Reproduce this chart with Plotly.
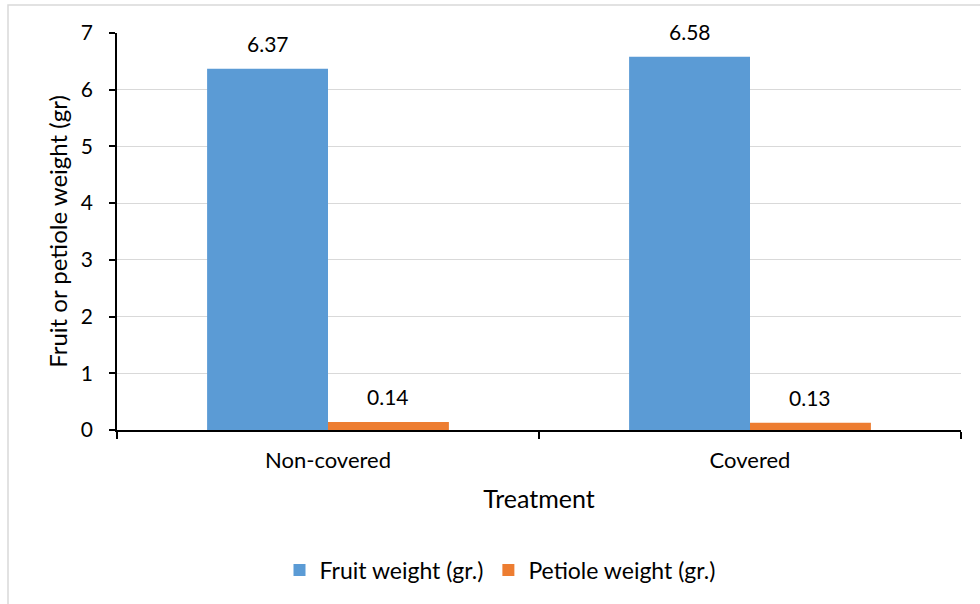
import plotly.graph_objects as go

# Data
treatments = ["Non-covered", "Covered"]
fruit_weight = [6.37, 6.58]
petiole_weight = [0.14, 0.13]
series_names = ["Fruit weight (gr.)", "Petiole weight (gr.)"]
y_ticks = [0, 1, 2, 3, 4, 5, 6, 7]

FONT = "Lato, 'Open Sans', sans-serif"
BLUE = "#5B9BD5"
ORANGE = "#ED7D31"

W, H = 980, 604
ML, MR, MT, MB = 117, 19, 33, 174
PW, PH = W - ML - MR, H - MT - MB

fig = go.Figure()
fig.add_trace(go.Bar(x=treatments, y=fruit_weight, name=series_names[0],
                     marker=dict(color=BLUE, line=dict(width=0))))
fig.add_trace(go.Bar(x=treatments, y=petiole_weight, name=series_names[1],
                     marker=dict(color=ORANGE, line=dict(width=0))))

# value labels above each bar
bar_px = PW / len(treatments) * (1 - 0.427) / 2
for vals, sign in ((fruit_weight, -1), (petiole_weight, 1)):
    for cat, v in zip(treatments, vals):
        fig.add_annotation(x=cat, y=v, text=f"{v:.2f}", showarrow=False,
                           xshift=sign * bar_px / 2, yshift=11, yanchor="bottom",
                           font=dict(family=FONT, size=21, color="#000000"))

# outer chart border (left and top edges visible)
fig.add_shape(type="rect", xref="paper", yref="paper",
              x0=(8 - ML) / PW, x1=(W + 20 - ML) / PW,
              y0=-(H + 20 - MT - PH) / PH, y1=1 + (MT - 5) / PH,
              line=dict(color="#D9D9D9", width=1.5), fillcolor="rgba(0,0,0,0)",
              layer="below")

fig.update_layout(
    width=W, height=H,
    margin=dict(l=ML, r=MR, t=MT, b=MB),
    paper_bgcolor="white", plot_bgcolor="white",
    barmode="group", bargap=0.427, bargroupgap=0,
    font=dict(family=FONT, size=21, color="#000000"),
    showlegend=True,
    legend=dict(orientation="h", x=(500 - ML) / PW, xanchor="center",
                y=(MT + PH - 570) / PH, yanchor="middle",
                font=dict(family=FONT, size=23), itemwidth=30,
                traceorder="normal"),
    xaxis=dict(
        title=dict(text="Treatment", font=dict(family=FONT, size=25), standoff=18),
        showline=True, linecolor="#000000", linewidth=1.5,
        ticks="outside", tickson="boundaries", ticklen=7, tickcolor="#000000",
        tickwidth=1.5, showgrid=False, ticklabelstandoff=10,
        tickfont=dict(family=FONT, size=22),
    ),
    yaxis=dict(
        title=dict(text="Fruit or petiole weight (gr)", font=dict(family=FONT, size=24),
                   standoff=6),
        range=[0, 7], tickvals=y_ticks, showline=True, linecolor="#000000",
        linewidth=1.5, ticks="outside", ticklen=6, tickcolor="#000000", tickwidth=1.5,
        showgrid=True, gridcolor="#D9D9D9", gridwidth=1, zeroline=False,
        ticklabelstandoff=12, tickfont=dict(family=FONT, size=21),
    ),
)

fig.write_html("out.html")
